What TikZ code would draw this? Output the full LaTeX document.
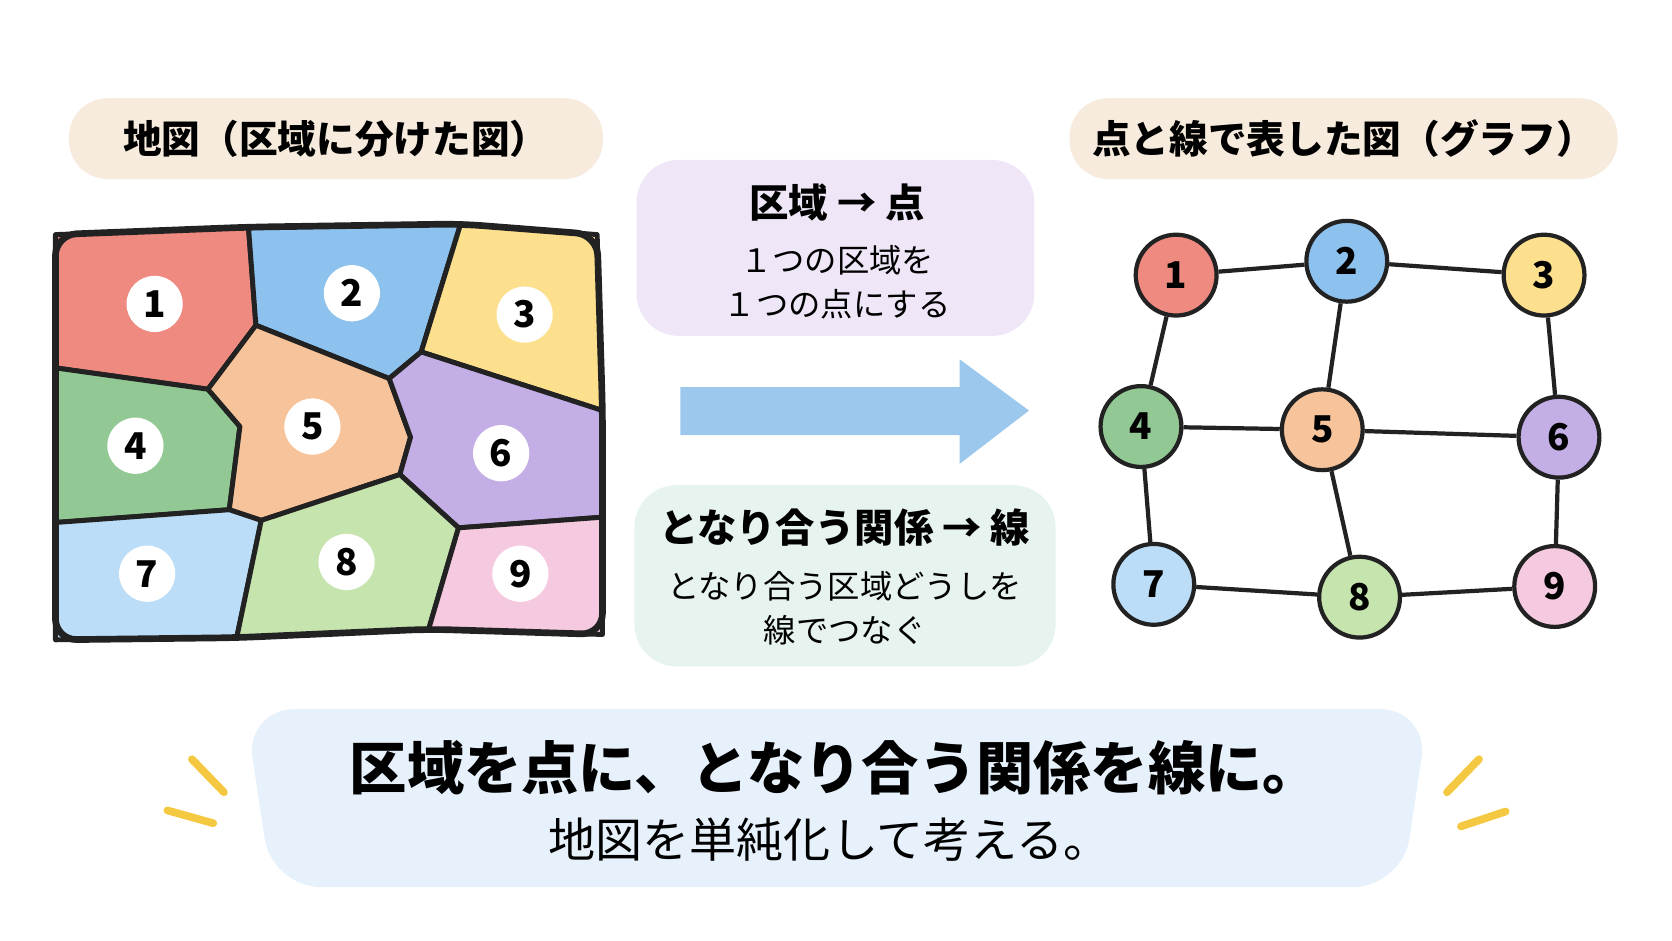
\documentclass[tikz,border=0pt]{standalone}
\usepackage{fontspec}
\setmainfont{Noto Sans CJK JP}
\usetikzlibrary{positioning}
\definecolor{cRed}{HTML}{EE8A80}
\definecolor{cBlue}{HTML}{8DC2EE}
\definecolor{cYel}{HTML}{FCE08E}
\definecolor{cGrn}{HTML}{92C894}
\definecolor{cOra}{HTML}{F7C39A}
\definecolor{cPur}{HTML}{C4AEE6}
\definecolor{cLbl}{HTML}{BBDDF7}
\definecolor{cLgr}{HTML}{C6E4AE}
\definecolor{cPnk}{HTML}{F5C9DF}
\definecolor{pill}{HTML}{F7EBDD}
\definecolor{boxP}{HTML}{EFE6F7}
\definecolor{boxG}{HTML}{E6F3EE}
\definecolor{banner}{HTML}{E6F1FB}
\definecolor{arrowB}{HTML}{9CC8EE}
\definecolor{spark}{HTML}{F5C842}
\definecolor{ink}{HTML}{222222}
\tikzset{
  region/.style={draw=ink, line width=1.4pt, line join=round},
  num/.style={circle, fill=white, minimum size=16pt, inner sep=0pt, font=\bfseries\fontsize{10.5}{12}\selectfont},
  gnode/.style={circle, draw=ink, line width=1.2pt, minimum size=23pt, inner sep=0pt, font=\bfseries\fontsize{10.5}{12}\selectfont},
  edge/.style={draw=ink, line width=1.2pt},
  pillbox/.style={rounded corners=11pt, fill=pill, minimum width=152pt, minimum height=23pt, font=\bfseries\fontsize{11}{13}\selectfont},
  head/.style={font=\bfseries\fontsize{11.2}{13}\selectfont},
  body/.style={font=\fontsize{9.2}{12.5}\selectfont, align=center},
  sparkle/.style={draw=spark, line width=2.2pt, line cap=round}
}
\begin{document}
\begin{tikzpicture}[x=0.010663cm, y=-0.010663cm]
\useasboundingbox (0,0) rectangle (1568,882);
% titles
\node[pillbox] (tmap) at (315,130) {地図（区域に分けた図）};
\node[pillbox, minimum width=156pt] (tgraph) at (1260,130) {点と線で表した図（グラフ）};
% map
\coordinate (TL) at (52,220); \coordinate (T12) at (233,213); \coordinate (T23) at (432,210); \coordinate (TR) at (560,220);
\coordinate (J125) at (240,305); \coordinate (J145) at (195,365); \coordinate (L14) at (52,345);
\coordinate (J236) at (395,330); \coordinate (J256) at (365,355); \coordinate (R36) at (565,385);
\coordinate (J457) at (215,478); \coordinate (J578) at (245,488); \coordinate (J568) at (375,445);
\coordinate (J689) at (430,495); \coordinate (R69) at (565,485); \coordinate (L47) at (52,490);
\coordinate (B78) at (222,598); \coordinate (B89) at (402,590); \coordinate (BR) at (565,595); \coordinate (BL) at (52,600);
\path[region, fill=cRed] (TL) -- (T12) -- (J125) -- (J145) -- (L14) -- cycle;
\path[region, fill=cBlue] (T12) -- (T23) -- (J236) -- (J256) -- (J125) -- cycle;
\path[region, fill=cYel] (T23) -- (TR) -- (R36) -- (J236) -- cycle;
\path[region, fill=cGrn] (L14) -- (J145) -- (225,400) -- (J457) -- (L47) -- cycle;
\path[region, fill=cOra] (J125) -- (J256) -- (385,410) -- (J568) -- (J578) -- (J457) -- (225,400) -- (J145) -- cycle;
\path[region, fill=cPur] (J236) -- (R36) -- (R69) -- (J689) -- (J568) -- (385,410) -- (J256) -- cycle;
\path[region, fill=cLbl] (L47) -- (J457) -- (J578) -- (B78) -- (BL) -- cycle;
\path[region, fill=cLgr] (J578) -- (J568) -- (J689) -- (B89) -- (B78) -- cycle;
\path[region, fill=cPnk] (J689) -- (R69) -- (BR) -- (B89) -- cycle;
\draw[region, line width=1.9pt, rounded corners=6pt] (TL) -- (T12) -- (T23) -- (TR) -- (R36) -- (R69) -- (BR) -- (B89) -- (B78) -- (BL) -- (L47) -- (L14) -- cycle;
\node[num] (m1) at (145,285) {1};
\node[num] (m2) at (330,275) {2};
\node[num] (m3) at (492,295) {3};
\node[num] (m4) at (127,418) {4};
\node[num] (m5) at (293,400) {5};
\node[num] (m6) at (470,425) {6};
\node[num] (m7) at (138,538) {7};
\node[num] (m8) at (325,527) {8};
\node[num] (m9) at (488,538) {9};
% middle boxes
\fill[boxP, rounded corners=12pt] (597,150) rectangle (970,315);
\node[head] (h1) at (785,190) {区域 → 点};
\node[body] (b1) at (785,265) {１つの区域を\\１つの点にする};
\fill[arrowB] (638,363) -- (900,363) -- (900,337) -- (965,385) -- (900,435) -- (900,408) -- (638,408) -- cycle;
\fill[boxG, rounded corners=12pt] (595,455) rectangle (990,625);
\node[head] (h2) at (792,495) {となり合う関係 → 線};
\node[body] (b2) at (792,570) {となり合う区域どうしを\\線でつなぐ};
% graph
\foreach \n/\x/\y/\c in {1/1103/258/cRed, 2/1263/245/cBlue, 3/1448/258/cYel, 4/1070/400/cGrn, 5/1240/403/cOra, 6/1462/410/cPur, 7/1082/548/cLbl, 8/1275/560/cLgr, 9/1458/550/cPnk}
  \node[gnode, fill=\c] (g\n) at (\x,\y) {\n};
\foreach \a/\b in {1/2, 2/3, 1/4, 2/5, 3/6, 4/5, 5/6, 4/7, 5/8, 6/9, 7/8, 8/9}
  \draw[edge] (g\a) -- (g\b);
% banner
\fill[banner, rounded corners=14pt] (230,665) -- (1340,665) -- (1315,832) -- (255,832) -- cycle;
\node[font=\bfseries\fontsize{16.3}{18}\selectfont] (msg) at (783,720) {区域を点に、となり合う関係を線に。};
\node[font=\fontsize{13.4}{15}\selectfont] (sub) at (778,787) {地図を単純化して考える。};
\draw[sparkle] (180,712) -- (210,743);
\draw[sparkle] (157,760) -- (200,772);
\draw[sparkle] (1387,712) -- (1357,743);
\draw[sparkle] (1370,775) -- (1412,761);
\end{tikzpicture}
\end{document}
